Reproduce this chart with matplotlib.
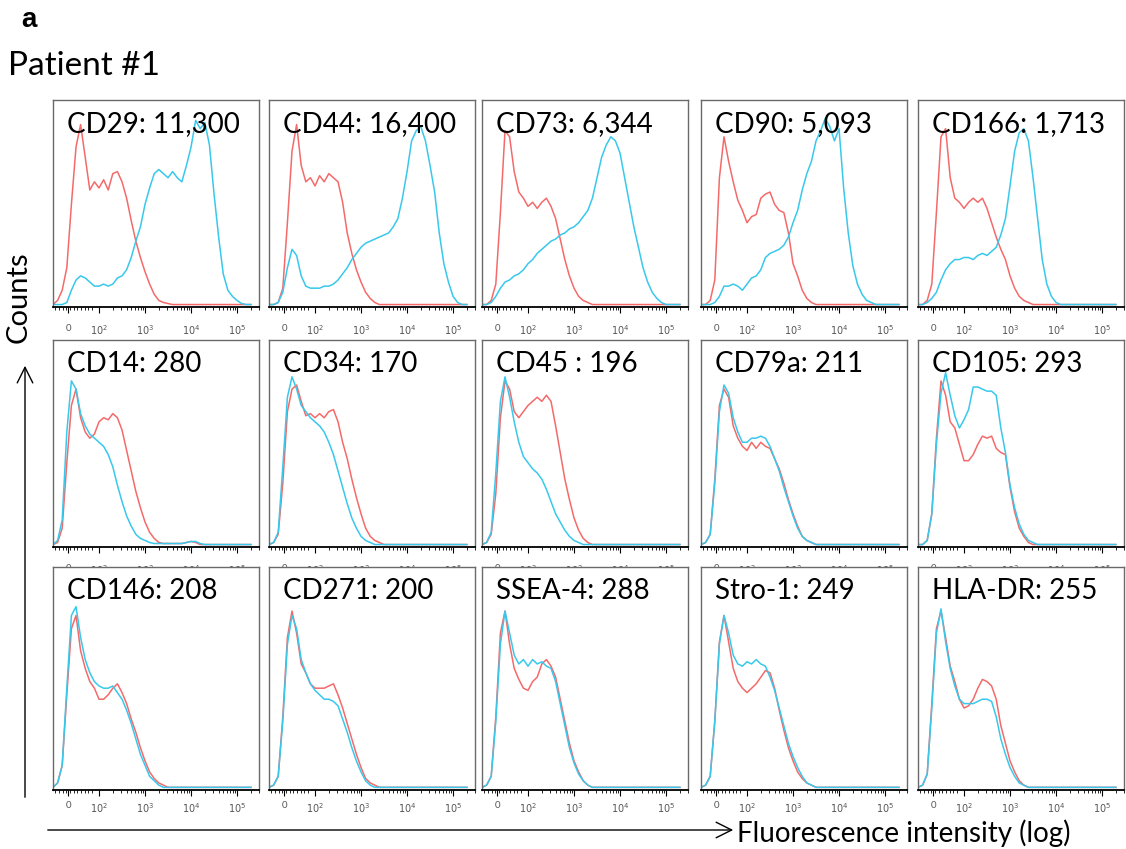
import numpy as np
import matplotlib.pyplot as plt

plt.rcParams['font.family'] = ['Lato', 'DejaVu Sans']

# fluorescence channel positions (display scale, 2 = 10^2 ... 5 = 10^5)
bins = np.round(np.arange(1.0, 5.31, 0.1), 2)

# counts, % of panel height; red = isotype control, blue = stained
cd29_red = [0, 2, 7, 18, 49, 77, 88, 72, 56, 60, 57, 61, 56, 64, 65, 60, 52, 41, 31, 23, 16, 10, 5, 2, 1, 0.5]
cd29_blue = [0, 0, 0, 1, 7, 12, 14, 13, 11, 9, 9, 10, 9, 10, 13, 14, 17, 23, 31, 38, 49, 57, 64, 66, 64, 62,
             65, 62, 60, 68, 77, 90, 86, 89, 78, 54, 33, 15, 7, 4, 2, 0.5]
cd44_red = [0, 0, 1, 8, 40, 75, 88, 68, 60, 62, 58, 63, 60, 64, 62, 60, 50, 35, 25, 17, 11, 6, 3, 1]
cd44_blue = [0, 0, 1, 6, 18, 27, 24, 14, 9, 8, 8, 8, 9, 9, 10, 12, 15, 18, 22, 25, 28, 30, 31, 32, 33, 34,
             35, 38, 42, 52, 65, 80, 85, 87, 80, 68, 55, 35, 20, 11, 4, 1]
cd73_red = [0, 0, 2, 10, 45, 85, 82, 65, 55, 52, 48, 50, 47, 50, 52, 48, 42, 32, 22, 14, 8, 4, 2, 1]
cd73_blue = [0, 0, 1, 4, 8, 11, 12, 14, 15, 17, 20, 22, 25, 27, 29, 31, 32, 34, 35, 37, 38, 40, 43, 46, 52, 62,
             72, 78, 82, 80, 74, 62, 50, 38, 28, 18, 11, 6, 3, 1]
cd90_red = [0, 0, 2, 12, 62, 82, 70, 60, 51, 46, 40, 43, 44, 52, 54, 55, 49, 46, 45, 35, 20, 14, 7, 3, 1]
cd90_blue = [0, 0, 0, 1, 4, 9, 9, 10, 9, 7, 10, 13, 14, 17, 23, 25, 26, 27, 29, 33, 40, 46, 56, 64, 70, 80,
             85, 91, 87, 80, 86, 57, 35, 19, 10, 5, 2, 1]
cd166_red = [0, 0, 2, 10, 45, 82, 86, 62, 52, 50, 47, 50, 52, 50, 52, 47, 40, 33, 27, 22, 14, 8, 4, 2, 1]
cd166_blue = [0, 0, 1, 3, 6, 12, 17, 20, 22, 22, 23, 23, 22, 24, 25, 24, 26, 28, 34, 42, 58, 75, 84, 86, 80, 62,
              42, 22, 10, 4, 1]

cd14_red = [0, 1, 8, 40, 68, 76, 62, 55, 52, 54, 60, 62, 61, 64, 62, 56, 46, 36, 26, 18, 11, 6, 3, 1, 0.5,
            0.5, 0.5, 0.5, 0.5, 1, 1.5, 1]
cd14_blue = [0, 2, 12, 55, 80, 76, 64, 58, 54, 52, 50, 48, 44, 38, 29, 21, 14, 9, 5, 3, 2, 1, 0.5, 0.5, 0.5,
             0.5, 0.5, 0.5, 0.5, 1, 1.5, 1.5, 0.5]
cd34_red = [0, 1, 5, 30, 65, 76, 78, 70, 63, 64, 62, 64, 62, 65, 66, 60, 50, 42, 32, 23, 15, 8, 4, 2, 1]
cd34_blue = [0, 1, 6, 38, 72, 82, 76, 68, 65, 62, 60, 58, 55, 50, 44, 36, 28, 20, 13, 8, 4, 2, 1]
cd45_red = [0, 1, 5, 25, 62, 80, 76, 65, 62, 65, 68, 70, 72, 70, 73, 70, 58, 45, 32, 22, 13, 7, 3, 1]
cd45_blue = [0, 1, 6, 35, 70, 82, 72, 60, 50, 43, 40, 37, 35, 32, 27, 21, 15, 11, 7, 4, 2, 1]
cd79a_red = [0, 1, 5, 32, 68, 76, 72, 58, 52, 48, 46, 50, 47, 50, 48, 47, 42, 37, 30, 22, 15, 9, 4, 2, 1]
cd79a_blue = [0, 1, 5, 30, 65, 78, 74, 62, 55, 50, 50, 52, 52, 53, 52, 48, 42, 36, 28, 21, 14, 8, 4, 2, 1]
cd105_red = [0, 0, 2, 15, 52, 80, 73, 60, 57, 49, 41, 41, 44, 49, 53, 52, 53, 47, 45, 44, 28, 16, 8, 4, 1]
cd105_blue = [0, 0, 2, 15, 49, 74, 84, 73, 63, 57, 61, 66, 77, 77, 76, 75, 75, 73, 57, 45, 29, 18, 10, 5, 2, 1]

cd146_red = [0, 2, 10, 42, 72, 78, 62, 54, 48, 45, 40, 40, 42, 45, 47, 43, 38, 31, 25, 18, 12, 7, 4, 2, 1]
cd146_blue = [0, 2, 10, 45, 78, 82, 68, 58, 52, 48, 46, 45, 45, 46, 43, 40, 35, 29, 22, 15, 10, 5, 3, 1]
cd271_red = [0, 1, 5, 32, 68, 80, 70, 56, 52, 47, 45, 45, 45, 46, 47, 42, 36, 29, 22, 15, 9, 4, 2, 1]
cd271_blue = [0, 1, 5, 30, 65, 78, 72, 58, 52, 47, 44, 42, 40, 40, 39, 37, 31, 25, 18, 12, 7, 3, 1]
ssea4_red = [0, 1, 5, 32, 70, 80, 65, 54, 49, 45, 44, 48, 50, 56, 58, 55, 50, 40, 30, 20, 12, 7, 3, 1]
ssea4_blue = [0, 1, 5, 30, 65, 80, 70, 60, 56, 58, 55, 58, 56, 57, 55, 54, 48, 38, 28, 18, 11, 6, 3, 1]
stro1_red = [0, 1, 5, 30, 66, 78, 66, 54, 48, 45, 43, 45, 47, 50, 53, 52, 45, 35, 26, 18, 12, 7, 4, 2, 1]
stro1_blue = [0, 1, 5, 30, 65, 78, 70, 60, 56, 55, 57, 56, 58, 56, 55, 50, 44, 36, 28, 20, 14, 9, 5, 2, 1]
hladr_red = [0, 1, 6, 38, 72, 80, 68, 55, 48, 40, 36, 37, 40, 45, 49, 48, 46, 40, 28, 20, 12, 7, 3, 1]
hladr_blue = [0, 1, 6, 36, 70, 81, 66, 54, 46, 40, 38, 38, 38, 39, 40, 40, 39, 32, 22, 15, 9, 5, 2, 1]

labels = ['CD29: 11,300', 'CD44: 16,400', 'CD73: 6,344', 'CD90: 5,093', 'CD166: 1,713',
          'CD14: 280', 'CD34: 170', 'CD45 : 196', 'CD79a: 211', 'CD105: 293',
          'CD146: 208', 'CD271: 200', 'SSEA-4: 288', 'Stro-1: 249', 'HLA-DR: 255']
red_curves = [cd29_red, cd44_red, cd73_red, cd90_red, cd166_red,
              cd14_red, cd34_red, cd45_red, cd79a_red, cd105_red,
              cd146_red, cd271_red, ssea4_red, stro1_red, hladr_red]
blue_curves = [cd29_blue, cd44_blue, cd73_blue, cd90_blue, cd166_blue,
               cd14_blue, cd34_blue, cd45_blue, cd79a_blue, cd105_blue,
               cd146_blue, cd271_blue, ssea4_blue, stro1_blue, hladr_blue]


def pad(v):
    # rest of the channel range sits on the baseline
    return list(v) + [0] * (len(bins) - len(v))


W, H = 1126, 849
fig = plt.figure(figsize=(W / 100, H / 100), dpi=100)

col_left = [53, 269, 482, 701, 918]
panel_w = 206
row_top = [100, 340, 567]
row_axis = [307, 547, 790]
row_pad = [8, 8, 4]

RED = '#f46a6a'
BLUE = '#38c8ec'

major = [1.33, 2, 3, 4, 5]
major_lab = ['0', r'$10^2$', r'$10^3$', r'$10^4$', r'$10^5$']
minor = [1.05 + 0.08 * k for k in range(11)]
for d in [2, 3, 4]:
    minor += [d + np.log10(k) for k in range(2, 10)]
minor += [5 + np.log10(2), 5 + np.log10(3)]

for i in range(15):
    r, c = divmod(i, 5)
    left, top, axis = col_left[c], row_top[r], row_axis[r]
    ax = fig.add_axes([left / W, 1 - axis / H, panel_w / W, (axis - top) / H])
    ax.plot(bins, pad(red_curves[i]), color=RED, lw=1.1)
    ax.plot(bins, pad(blue_curves[i]), color=BLUE, lw=1.1)
    ax.set_xlim(1.0, 5.33)
    ax.set_ylim(-1.2, 100)
    ax.set_yticks([])
    ax.set_xticks(major)
    ax.set_xticklabels(major_lab)
    ax.set_xticks(minor, minor=True)
    ax.tick_params(axis='x', which='major', length=4, width=0.8, labelsize=7,
                   labelcolor='#555555', pad=row_pad[r])
    ax.tick_params(axis='x', which='minor', length=2.5, width=0.6)
    for s in ['left', 'right', 'top']:
        ax.spines[s].set_color('#6a6a6a')
        ax.spines[s].set_linewidth(1.0)
    ax.spines['bottom'].set_color('black')
    ax.spines['bottom'].set_linewidth(1.3)
    fig.text((left + 14) / W, 1 - (top + 11) / H, labels[i], fontsize=20,
             ha='left', va='top', zorder=5)

fig.text(21 / W, 1 - 20 / H, 'a', fontsize=20, fontweight='bold',
         family=['Liberation Sans', 'DejaVu Sans'], ha='left', va='center')
fig.text(8 / W, 1 - 66 / H, 'Patient #1', fontsize=24, ha='left', va='center')
fig.text(19 / W, 1 - 297 / H, 'Counts', fontsize=21, rotation=90,
         ha='center', va='center')
fig.text(737 / W, 1 - 833 / H, 'Fluorescence intensity (log)', fontsize=20,
         ha='left', va='center')

plt.annotate('', xy=(25 / W, 1 - 363 / H), xytext=(25 / W, 1 - 800 / H),
             xycoords='figure fraction',
             arrowprops=dict(arrowstyle='->', lw=1.0, color='black', mutation_scale=28))
plt.annotate('', xy=(736 / W, 1 - 830 / H), xytext=(45 / W, 1 - 830 / H),
             xycoords='figure fraction',
             arrowprops=dict(arrowstyle='->', lw=1.0, color='black', mutation_scale=28))

fig.savefig('out.png', dpi=100)
